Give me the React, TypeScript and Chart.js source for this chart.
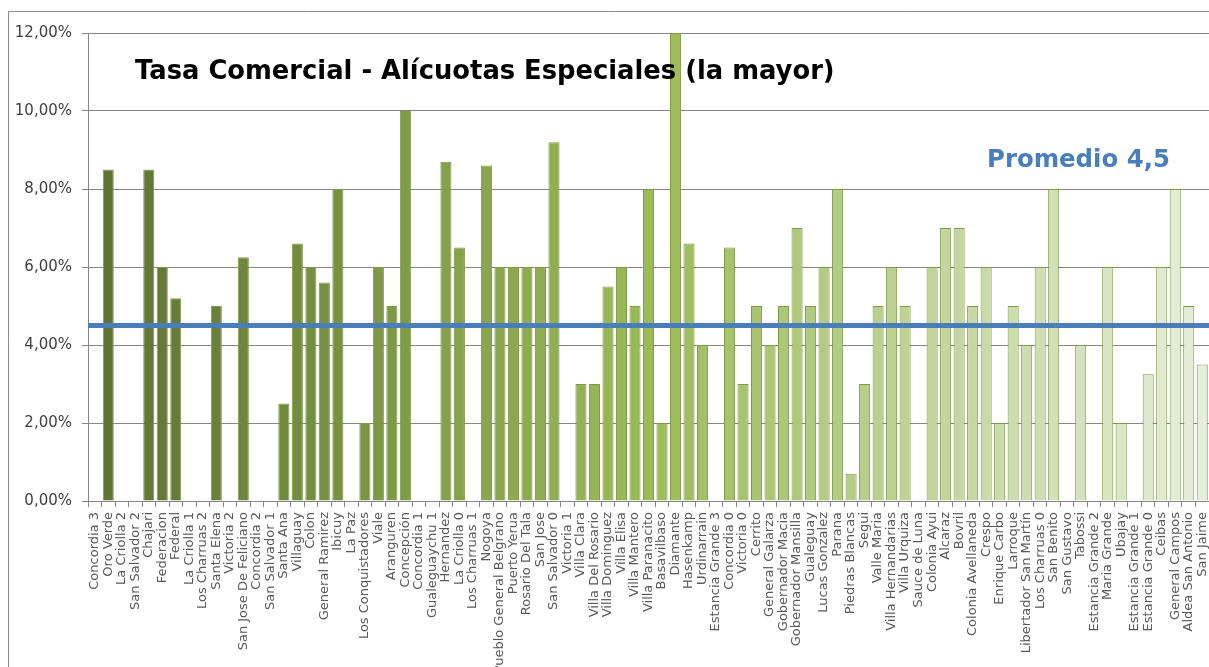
import React, { useEffect, useRef } from "react";
import { Chart, registerables } from "chart.js";

Chart.register(...registerables);

const categories = [
  "Concordia 3", "Oro Verde", "La Criolla 2", "San Salvador 2", "Chajari", "Federacion", "Federal",
  "La Criolla 1", "Los Charruas 2", "Santa Elena", "Victoria 2", "San Jose De Feliciano", "Concordia 2",
  "San Salvador 1", "Santa Ana", "Villaguay", "Colon", "General Ramirez", "Ibicuy", "La Paz",
  "Los Conquistadores", "Viale", "Aranguren", "Concepción", "Concordia 1", "Gualeguaychu 1", "Hernandez",
  "La Criolla 0", "Los Charruas 1", "Nogoya", "Pueblo General Belgrano", "Puerto Yerua", "Rosario Del Tala",
  "San Jose", "San Salvador 0", "Victoria 1", "Villa Clara", "Villa Del Rosario", "Villa Dominguez",
  "Villa Elisa", "Villa Mantero", "Villa Paranacito", "Basavilbaso", "Diamante", "Hasenkamp", "Urdinarrain",
  "Estancia Grande 3", "Concordia 0", "Victoria 0", "Cerrito", "General Galarza", "Gobernador Macia",
  "Gobernador Mansilla", "Gualeguay", "Lucas Gonzalez", "Parana", "Piedras Blancas", "Segui", "Valle Maria",
  "Villa Hernandarias", "Villa Urquiza", "Sauce de Luna", "Colonia Ayui", "Alcaraz", "Bovril",
  "Colonia Avellaneda", "Crespo", "Enrique Carbo", "Larroque", "Libertador San Martín", "Los Charruas 0",
  "San Benito", "San Gustavo", "Tabossi", "Estancia Grande 2", "Maria Grande", "Ubajay", "Estancia Grande 1",
  "Estancia Grande 0", "Ceibas", "General Campos", "Aldea San Antonio", "San Jaime",
];

const alicuotas = [
  0, 8.5, 0, 0, 8.5, 6, 5.2,
  0, 0, 5, 0, 6.25, 0,
  0, 2.5, 6.6, 6, 5.6, 8, 0,
  2, 6, 5, 10, 0, 0, 8.7,
  6.5, 0, 8.6, 6, 6, 6,
  6, 9.2, 0, 3, 3, 5.5,
  6, 5, 8, 2, 12, 6.6, 4,
  0, 6.5, 3, 5, 4, 5,
  7, 5, 6, 8, 0.7, 3, 5,
  6, 5, 0, 6, 7, 7,
  5, 6, 2, 5, 4, 6,
  8, 0, 4, 0, 6, 2, 0,
  3.25, 6, 8, 5, 3.5,
];

const yTicks = [0, 2, 4, 6, 8, 10, 12];
const promedio = 4.5;
const titleText = "Tasa Comercial - Alícuotas Especiales (la mayor)";
const promedioText = "Promedio 4,5";

function barColor(i: number, n: number): string {
  const stops = [
    [0x5d, 0x71, 0x32],
    [0x9b, 0xbb, 0x59],
    [0xe6, 0xed, 0xd9],
  ];
  const t = n > 1 ? i / (n - 1) : 0;
  const seg = t < 0.5 ? 0 : 1;
  const lt = t < 0.5 ? t / 0.5 : (t - 0.5) / 0.5;
  const a = stops[seg];
  const b = stops[seg + 1];
  const c = a.map((v, k) => Math.round(v + (b[k] - v) * lt));
  return `rgb(${c[0]},${c[1]},${c[2]})`;
}

function fitText(ctx: CanvasRenderingContext2D, text: string, family: string, base: number, target: number) {
  ctx.font = `bold ${base}px ${family}`;
  const w = ctx.measureText(text).width;
  const size = w > 0 ? (base * target) / w : base;
  ctx.font = `bold ${size.toFixed(2)}px ${family}`;
}

export default function App() {
  const ref = useRef<HTMLCanvasElement>(null);

  useEffect(() => {
    if (!ref.current) return;
    const n = categories.length;
    const colors = categories.map((_, i) => barColor(i, n));

    const overlay = {
      id: "overlay",
      beforeDraw(chart: any) {
        const ctx = chart.ctx;
        ctx.save();
        ctx.strokeStyle = "#8c8c8c";
        ctx.lineWidth = 1;
        ctx.beginPath();
        ctx.moveTo(8.5, chart.height);
        ctx.lineTo(8.5, 11.5);
        ctx.lineTo(chart.width, 11.5);
        ctx.stroke();
        ctx.restore();
      },
      afterDatasetsDraw(chart: any) {
        const ctx = chart.ctx;
        const y = chart.scales.y.getPixelForValue(promedio);
        const { left, right } = chart.chartArea;
        ctx.save();
        ctx.strokeStyle = "#4a7ebb";
        ctx.lineWidth = 5;
        ctx.beginPath();
        ctx.moveTo(left, y);
        ctx.lineTo(right, y);
        ctx.stroke();
        ctx.restore();
      },
      afterDraw(chart: any) {
        const ctx = chart.ctx;
        ctx.save();
        ctx.textBaseline = "alphabetic";
        ctx.textAlign = "left";
        ctx.fillStyle = "#000000";
        fitText(ctx, titleText, "'DejaVu Sans'", 26, 700);
        ctx.fillText(titleText, 135, 79);
        ctx.fillStyle = "#4a7ebb";
        fitText(ctx, promedioText, "'DejaVu Sans'", 26, 183);
        ctx.fillText(promedioText, 987, 167);
        ctx.restore();
      },
    };

    const chart = new Chart(ref.current, {
      type: "bar",
      data: {
        labels: categories,
        datasets: [
          {
            data: alicuotas,
            backgroundColor: colors,
            borderColor: "#7e9b47",
            borderWidth: 1,
            barPercentage: 0.82,
            categoryPercentage: 1,
          },
        ],
      },
      options: {
        responsive: false,
        animation: false,
        layout: { padding: { top: 33, left: 0, right: 0, bottom: 0 } },
        plugins: {
          legend: { display: false },
          tooltip: { enabled: false },
          title: { display: false },
        },
        scales: {
          x: {
            grid: {
              display: true,
              drawOnChartArea: false,
              drawTicks: true,
              tickLength: 6,
              color: "#868686",
              offset: true,
            },
            border: { display: true, color: "#868686" },
            ticks: {
              autoSkip: false,
              maxRotation: 90,
              minRotation: 90,
              padding: 5,
              color: "#595959",
              font: { family: "DejaVu Sans", size: 13 },
            },
            afterFit(scale: any) {
              scale.height = 166;
              scale.paddingLeft = 0;
              scale.paddingRight = 0;
            },
          },
          y: {
            min: 0,
            max: 12,
            afterBuildTicks(scale: any) {
              scale.ticks = yTicks.map((v) => ({ value: v }));
            },
            grid: {
              color: "#868686",
              tickLength: 6,
              drawTicks: true,
            },
            border: { display: true, color: "#868686" },
            ticks: {
              padding: 10,
              color: "#404040",
              font: { family: "DejaVu Sans", size: 15 },
              callback: (v: any) => Number(v).toFixed(2).replace(".", ",") + "%",
            },
            afterFit(scale: any) {
              scale.width = 88;
              scale.paddingTop = 0;
              scale.paddingBottom = 0;
            },
          },
        },
      },
      plugins: [overlay],
    });

    return () => chart.destroy();
  }, []);

  return (
    <canvas
      ref={ref}
      width={1209}
      height={667}
      style={{ position: "fixed", left: 0, top: 0, display: "block" }}
    />
  );
}
